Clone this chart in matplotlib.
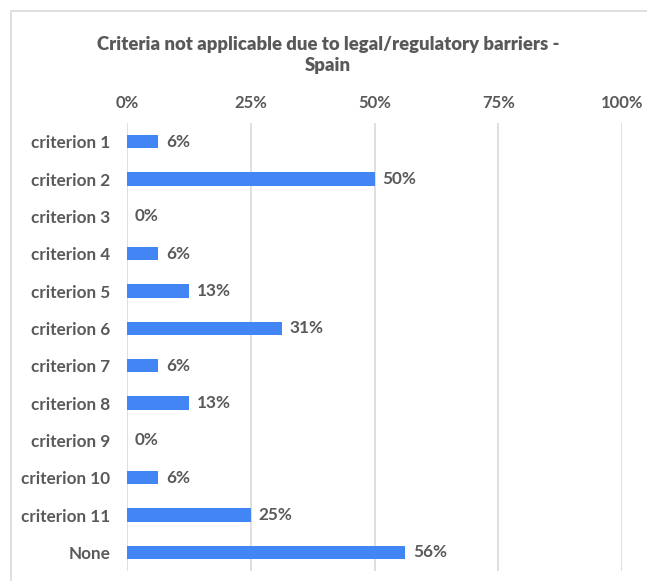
import math
import matplotlib.pyplot as plt
from matplotlib.patches import Rectangle

categories = ['criterion 1', 'criterion 2', 'criterion 3', 'criterion 4', 'criterion 5',
              'criterion 6', 'criterion 7', 'criterion 8', 'criterion 9', 'criterion 10',
              'criterion 11', 'None']
values = [6.25, 50, 0, 6.25, 12.5, 31.25, 6.25, 12.5, 0, 6.25, 25, 56.25]
ticks = [0, 25, 50, 75, 100]

plt.rcParams['font.family'] = ['Lato', 'DejaVu Sans']
plt.rcParams['font.weight'] = 'bold'
TEXT = '#595959'
BAR = '#4285F4'

W, H = 647, 581
fig = plt.figure(figsize=(W / 100, H / 100), dpi=100)
fig.patches.append(Rectangle((11 / W, -0.01), 1.0, 1 - 11 / H + 0.01, transform=fig.transFigure,
                             fill=False, edgecolor='#d9d9d9', linewidth=1.2))

ax = fig.add_axes([127 / W, 1 - 571 / H, (622 - 127) / W, (571 - 123) / H])
y = list(range(len(categories)))
ax.barh(y, values, height=0.36, color=BAR, zorder=3)
for yi, v in zip(y, values):
    ax.text(v + 1.6, yi, '{}%'.format(int(math.floor(v + 0.5))), va='center', ha='left',
            fontsize=12.3, color=TEXT, fontweight='bold')

ax.set_xlim(0, 100)
ax.set_ylim(len(categories) - 0.5, -0.5)
ax.set_yticks(y)
ax.set_yticklabels(categories)
ax.set_xticks(ticks)
ax.set_xticklabels(['{}%'.format(t) for t in ticks])
ax.xaxis.tick_top()
ax.tick_params(axis='both', length=0, labelsize=12, labelcolor=TEXT)
ax.tick_params(axis='y', pad=12, labelsize=12.3)
ax.tick_params(axis='x', pad=9)
ax.grid(axis='x', color='#d9d9d9', linewidth=1.2, zorder=0)
for s in ax.spines.values():
    s.set_visible(False)

fig.text(0.507, 1 - 55 / H, 'Criteria not applicable due to legal/regulatory barriers -\nSpain',
         ha='center', va='center', fontsize=13.3, color=TEXT, fontweight='heavy', linespacing=1.25)

fig.savefig('out.png', dpi=100)
